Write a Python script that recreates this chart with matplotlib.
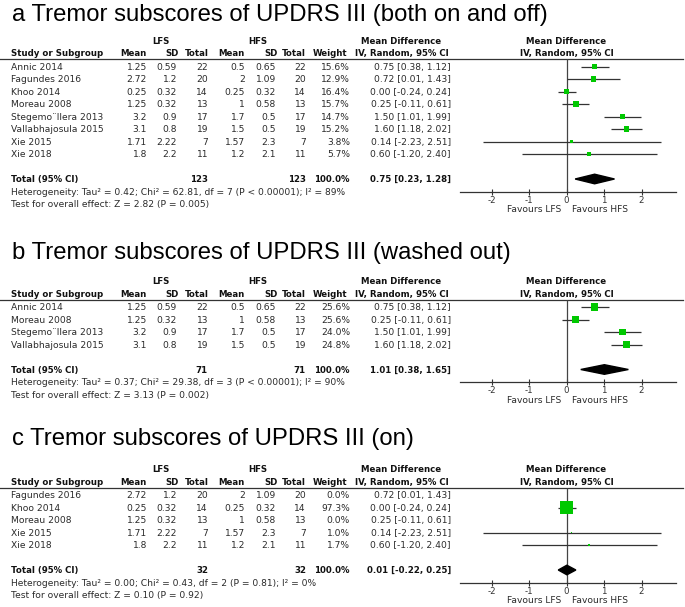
import numpy as np
import matplotlib
matplotlib.use('Agg')
import matplotlib.pyplot as plt
from matplotlib.patches import Polygon

plt.rcParams['font.family'] = ['DejaVu Sans']

# ---- data: panel a (both on and off) ----
names_a = ["Annic 2014", "Fagundes 2016", "Khoo 2014", "Moreau 2008",
           "Stegemo\u00a8llera 2013", "Vallabhajosula 2015", "Xie 2015", "Xie 2018"]
lfs_mean_a = [1.25, 2.72, 0.25, 1.25, 3.2, 3.1, 1.71, 1.8]
lfs_sd_a = [0.59, 1.2, 0.32, 0.32, 0.9, 0.8, 2.22, 2.2]
lfs_n_a = [22, 20, 14, 13, 17, 19, 7, 11]
hfs_mean_a = [0.5, 2, 0.25, 1, 1.7, 1.5, 1.57, 1.2]
hfs_sd_a = [0.65, 1.09, 0.32, 0.58, 0.5, 0.5, 2.3, 2.1]
hfs_n_a = [22, 20, 14, 13, 17, 19, 7, 11]
weight_a = [15.6, 12.9, 16.4, 15.7, 14.7, 15.2, 3.8, 5.7]
md_a = [0.75, 0.72, 0.00, 0.25, 1.50, 1.60, 0.14, 0.60]
lo_a = [0.38, 0.01, -0.24, -0.11, 1.01, 1.18, -2.23, -1.20]
hi_a = [1.12, 1.43, 0.24, 0.61, 1.99, 2.02, 2.51, 2.40]
total_a = [123, 123, 0.75, 0.23, 1.28]
het_a = "Heterogeneity: Tau\u00b2 = 0.42; Chi\u00b2 = 62.81, df = 7 (P < 0.00001); I\u00b2 = 89%"
test_a = "Test for overall effect: Z = 2.82 (P = 0.005)"

# ---- data: panel b (washed out) ----
names_b = ["Annic 2014", "Moreau 2008", "Stegemo\u00a8llera 2013", "Vallabhajosula 2015"]
lfs_mean_b = [1.25, 1.25, 3.2, 3.1]
lfs_sd_b = [0.59, 0.32, 0.9, 0.8]
lfs_n_b = [22, 13, 17, 19]
hfs_mean_b = [0.5, 1, 1.7, 1.5]
hfs_sd_b = [0.65, 0.58, 0.5, 0.5]
hfs_n_b = [22, 13, 17, 19]
weight_b = [25.6, 25.6, 24.0, 24.8]
md_b = [0.75, 0.25, 1.50, 1.60]
lo_b = [0.38, -0.11, 1.01, 1.18]
hi_b = [1.12, 0.61, 1.99, 2.02]
total_b = [71, 71, 1.01, 0.38, 1.65]
het_b = "Heterogeneity: Tau\u00b2 = 0.37; Chi\u00b2 = 29.38, df = 3 (P < 0.00001); I\u00b2 = 90%"
test_b = "Test for overall effect: Z = 3.13 (P = 0.002)"

# ---- data: panel c (on) ----
names_c = ["Fagundes 2016", "Khoo 2014", "Moreau 2008", "Xie 2015", "Xie 2018"]
lfs_mean_c = [2.72, 0.25, 1.25, 1.71, 1.8]
lfs_sd_c = [1.2, 0.32, 0.32, 2.22, 2.2]
lfs_n_c = [20, 14, 13, 7, 11]
hfs_mean_c = [2, 0.25, 1, 1.57, 1.2]
hfs_sd_c = [1.09, 0.32, 0.58, 2.3, 2.1]
hfs_n_c = [20, 14, 13, 7, 11]
weight_c = [0.0, 97.3, 0.0, 1.0, 1.7]
md_c = [0.72, 0.00, 0.25, 0.14, 0.60]
lo_c = [0.01, -0.24, -0.11, -2.23, -1.20]
hi_c = [1.43, 0.24, 0.61, 2.51, 2.40]
total_c = [32, 32, 0.01, -0.22, 0.25]
het_c = "Heterogeneity: Tau\u00b2 = 0.00; Chi\u00b2 = 0.43, df = 2 (P = 0.81); I\u00b2 = 0%"
test_c = "Test for overall effect: Z = 0.10 (P = 0.92)"

ticks = [-2, -1, 0, 1, 2]

W, H = 685, 607
FS = 6.6     # regular table text
FSB = 6.2    # bold table text
TXT = '#2a2a2a'
GREEN = '#00c800'

fig = plt.figure(figsize=(W / 100, H / 100), dpi=100)
tab = fig.add_axes([0, 0, 1, 1])
tab.set_xlim(0, W)
tab.set_ylim(H, 0)
tab.axis('off')

# column right edges (pixels)
cols = [147, 177, 208, 245, 276, 306, 350, 451]
head_r = [147, 179, 209, 245, 278, 306, 347]
head_t = ["Mean", "SD", "Total", "Mean", "SD", "Total", "Weight"]


def ci_str(m, l, h):
    return "%.2f [%.2f, %.2f]" % (m, l, h)


def panel(y0, title_y, title, names, m1, s1, n1, m2, s2, n2, wt, md, lo, hi, tot, het, test):
    sp = 12.5
    off = 3.2  # centre -> baseline
    rows = y0 + sp * np.arange(len(names))
    y_tot = y0 + sp * (len(names) + 1)
    y_het = y_tot + sp
    y_test = y_het + sp
    h1, h2, y_line = y0 - 26, y0 - 13.5, y0 - 7.5

    tab.text(12, title_y, title, family='Liberation Sans', fontsize=17.2,
             color='black', va='baseline')

    # headers
    kb = dict(fontsize=FSB, fontweight='bold', color='#111', va='baseline')
    tab.text(161, h1 + off, "LFS", ha='center', **kb)
    tab.text(258, h1 + off, "HFS", ha='center', **kb)
    tab.text(401, h1 + off, "Mean Difference", ha='center', **kb)
    tab.text(11, h2 + off, "Study or Subgroup", ha='left', **kb)
    for x, t in zip(head_r, head_t):
        tab.text(x, h2 + off, t, ha='right', **kb)
    tab.text(402, h2 + off, "IV, Random, 95% CI", ha='center', **kb)
    tab.plot([0, 683], [y_line, y_line], color='#333', lw=0.9)

    # study rows
    kw = dict(fontsize=FS, color=TXT, va='baseline')
    for i, y in enumerate(rows):
        vals = ["%g" % m1[i], "%g" % s1[i], "%d" % n1[i],
                "%g" % m2[i], "%g" % s2[i], "%d" % n2[i],
                "%.1f%%" % wt[i], ci_str(md[i], lo[i], hi[i])]
        tab.text(11, y + off, names[i], ha='left', **kw)
        for x, v in zip(cols, vals):
            tab.text(x, y + off, v, ha='right', **kw)

    tab.text(11, y_tot + off, "Total (95% CI)", ha='left', **kb)
    tab.text(cols[2], y_tot + off, "%d" % tot[0], ha='right', **kb)
    tab.text(cols[5], y_tot + off, "%d" % tot[1], ha='right', **kb)
    tab.text(cols[6], y_tot + off, "100.0%", ha='right', **kb)
    tab.text(cols[7], y_tot + off, ci_str(tot[2], tot[3], tot[4]), ha='right', **kb)
    tab.text(11, y_het + off, het, ha='left', **kw)
    tab.text(11, y_test + off, test, ha='left', **kw)

    # forest plot
    ax = fig.add_axes([460 / W, 0, 216 / W, 1])
    ax.set_facecolor('none')
    ax.set_xlim(-2.84, 2.92)
    ax.set_ylim(H, 0)
    for s in ['left', 'right', 'top']:
        ax.spines[s].set_visible(False)
    ax.spines['bottom'].set_position(('data', y_het))
    ax.spines['bottom'].set_color('#333')
    ax.spines['bottom'].set_linewidth(0.9)
    ax.set_yticks([])
    ax.set_xticks(ticks)
    ax.set_xticklabels([str(t) for t in ticks])
    ax.tick_params(axis='x', direction='inout', length=5, width=0.8,
                   labelsize=6.2, pad=0.5, colors='#333')
    ax.text(0, h1 + off, "Mean Difference", ha='center', **kb)
    ax.text(0, h2 + off, "IV, Random, 95% CI", ha='center', **kb)
    ax.vlines(0, y_line, y_het, color='#444', lw=0.9)

    wt = np.array(wt)
    keep = wt > 0
    ax.hlines(rows[keep], np.array(lo)[keep], np.array(hi)[keep], color='#333', lw=0.9, zorder=2)
    ax.scatter(np.array(md)[keep], rows[keep], s=wt[keep] * 1.04, marker='s',
               color=GREEN, linewidths=0, zorder=3)
    dh = 4.8
    ax.add_patch(Polygon([[tot[3], y_tot], [tot[2], y_tot - dh],
                          [tot[4], y_tot], [tot[2], y_tot + dh]],
                         closed=True, color='black', zorder=3))
    ax.text(-0.15, y_het + 17.5 + off, "Favours LFS", ha='right', **kw)
    ax.text(0.15, y_het + 17.5 + off, "Favours HFS", ha='left', **kw)


panel(66.5, 21.5, "a Tremor subscores of UPDRS III (both on and off)",
      names_a, lfs_mean_a, lfs_sd_a, lfs_n_a, hfs_mean_a, hfs_sd_a, hfs_n_a,
      weight_a, md_a, lo_a, hi_a, total_a, het_a, test_a)
panel(307, 259.5, "b Tremor subscores of UPDRS III (washed out)",
      names_b, lfs_mean_b, lfs_sd_b, lfs_n_b, hfs_mean_b, hfs_sd_b, hfs_n_b,
      weight_b, md_b, lo_b, hi_b, total_b, het_b, test_b)
panel(495, 445, "c Tremor subscores of UPDRS III (on)",
      names_c, lfs_mean_c, lfs_sd_c, lfs_n_c, hfs_mean_c, hfs_sd_c, hfs_n_c,
      weight_c, md_c, lo_c, hi_c, total_c, het_c, test_c)

fig.savefig('out.png', dpi=100)
